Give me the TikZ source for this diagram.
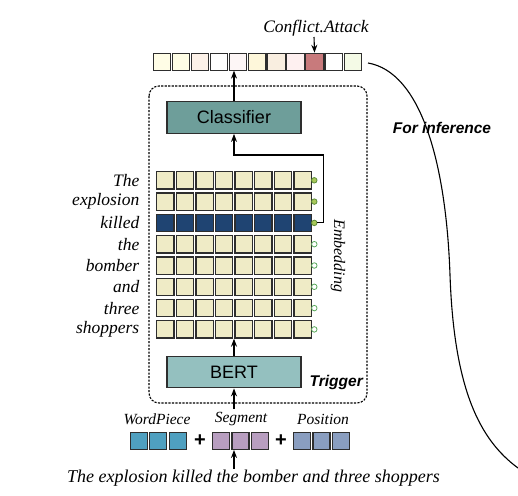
\documentclass[tikz,border=0pt]{standalone}
\usepackage{fontspec}
\setmainfont{Liberation Serif}
\setsansfont{Liberation Sans}
\usepackage{tikz}
\usetikzlibrary{positioning,arrows.meta,calc}
\usepackage{xcolor}

\definecolor{cellline}{HTML}{2E2E2E}
\definecolor{cellyellow}{HTML}{EFEBC6}
\definecolor{celldark}{HTML}{1F4472}
\definecolor{clsteal}{HTML}{6E9E9A}
\definecolor{bertteal}{HTML}{94C0BF}
\definecolor{dotgreen}{HTML}{A9C85A}
\definecolor{dotline}{HTML}{5E8E3A}
\definecolor{ringgreen}{HTML}{5BAA5B}
\definecolor{wpblue}{HTML}{4FA0C0}
\definecolor{seglilac}{HTML}{B89EC0}
\definecolor{posblue}{HTML}{8A9EC0}

\begin{document}
\begin{tikzpicture}[
			x=1pt, y=-1pt,
			cell/.style={rectangle, draw=cellline, line width=1.3pt, minimum width=17.3pt, minimum height=17.3pt, inner sep=0pt, fill=cellyellow},
			outcell/.style={cell, line width=1.1pt, minimum height=16.8pt},
			inpcell/.style={cell, minimum width=17pt, minimum height=16.6pt},
			procbox/.style={rectangle, draw=cellline, line width=1.3pt, minimum width=134pt, minimum height=31.5pt, inner sep=0pt, font=\fontsize{18}{20}\selectfont\sffamily},
			word/.style={anchor=east, inner sep=0pt, font=\fontsize{17.5}{20}\selectfont\itshape},
			tag/.style={inner sep=0pt, font=\fontsize{15.5}{18}\selectfont\itshape},
			dot/.style={circle, draw=dotline, fill=dotgreen, line width=0.8pt, minimum size=5.5pt, inner sep=0pt},
			ring/.style={circle, draw=ringgreen, fill=white, line width=0.8pt, minimum size=5.5pt, inner sep=0pt},
			arrow/.style={-{Stealth[length=8pt,width=6pt]}, line width=1.1pt, color=black}
			]
			\useasboundingbox (0,0) rectangle (518,495);
			
			% Output row (event types)
			\foreach \c [count=\i] in {FFFDE6,FEFDE5,FCF1E8,FFFFFF,FDF6F6,FEF7DA,F9EEE0,FEF0F0,C87A7C,FFFFFF,F4FAE6} {
				\definecolor{outfill}{HTML}{\c}
				\node[outcell, fill=outfill] (t\i) at ({162+(\i-1)*19.07},61.7) {};
			}
			\node[tag, font=\fontsize{17.5}{20}\selectfont\itshape] (label) at (316,28) {Conflict.Attack};
			
			% Trigger frame
			\draw[line width=1.1pt, dash pattern=on 2.2pt off 1.3pt, rounded corners=10pt] (149,86) rectangle (367,403);
			\node[anchor=east, inner sep=0pt, font=\fontsize{15.5}{18}\selectfont\sffamily\bfseries\itshape] (trigger) at (363,382) {Trigger};
			
			% Classifier and BERT
			\node[procbox, fill=clsteal] (cls) at (234,117.5) {Classifier};
			\node[procbox, fill=bertteal] (bert) at (234,372) {BERT};
			
			% Token embeddings
			\foreach \w [count=\r] in {The,explosion,killed,the,bomber,and,three,shoppers} {
				\node[word] (w\r) at (139.5,{180.3+(\r-1)*21.3}) {\w};
				\foreach \j in {1,...,8}
					\node[cell] (g\r-\j) at ({165.3+(\j-1)*19.6},{180.3+(\r-1)*21.3}) {};
			}
			\foreach \j in {1,...,8}
				\node[cell, fill=celldark] at (g3-\j) {};
			\foreach \r in {1,2,3}
				\node[dot] (c\r) at (314.3,{180.3+(\r-1)*21.3}) {};
			\foreach \r in {4,...,8}
				\node[ring] (c\r) at (314.3,{180.3+(\r-1)*21.3}) {};
			\node[tag, rotate=-90, font=\fontsize{16}{18}\selectfont\itshape] (emb) at (338,256) {Embedding};
			
			% Input embeddings
			\node[tag] (wp) at (157,419) {WordPiece};
			\node[tag] (seg) at (241,419) {Segment};
			\node[tag] (pos) at (323,419) {Position};
			\foreach \k in {1,2,3} {
				\node[inpcell, fill=wpblue] (wp\k) at ({138.8+(\k-1)*19.5},441) {};
				\node[inpcell, fill=seglilac] (seg\k) at ({221+(\k-1)*19.5},441) {};
				\node[inpcell, fill=posblue] (pos\k) at ({302+(\k-1)*19.5},441) {};
			}
			\node[inner sep=0pt, font=\fontsize{20}{20}\selectfont\sffamily\bfseries] (plusa) at (200,441) {+};
			\node[inner sep=0pt, font=\fontsize{20}{20}\selectfont\sffamily\bfseries] (plusb) at (281,441) {+};
			\node[inner sep=0pt, font=\fontsize{18}{20}\selectfont\itshape] (sent) at (253.5,478) {The explosion killed the bomber and three shoppers};
			
			% Inference
			\node[inner sep=0pt, font=\fontsize{15.5}{18}\selectfont\sffamily\bfseries\itshape] (infer) at (442,128) {For inference};
			\coordinate (curvestart) at (368,63);
			\coordinate (curvemid) at (450,275);
			\coordinate (curveend) at (518,468);
			
			% Arrows
			\coordinate (segtop) at (234,409);
			\coordinate (senttop) at (234,469);
			\coordinate (bend) at (323.7,155);
			\coordinate (labelfoot) at (314,37);
			\draw[arrow] (labelfoot) -- (t9.north);
			\draw[arrow] (cls.north) -- (cls.north |- t5.south);
			\draw[arrow] (c3.east) -| (bend) -| (cls.south);
			\draw[arrow] (bert.north) -- (bert.north |- g8-4.south);
			\draw[arrow] (segtop) -- (bert.south);
			\draw[arrow] (senttop) -- (senttop |- seg2.south);
			\draw[line width=1.1pt] (curvestart) .. controls (420,72) and (446,160) .. (curvemid)
				.. controls (454,390) and (480,440) .. (curveend);
			
		\end{tikzpicture}
\end{document}
